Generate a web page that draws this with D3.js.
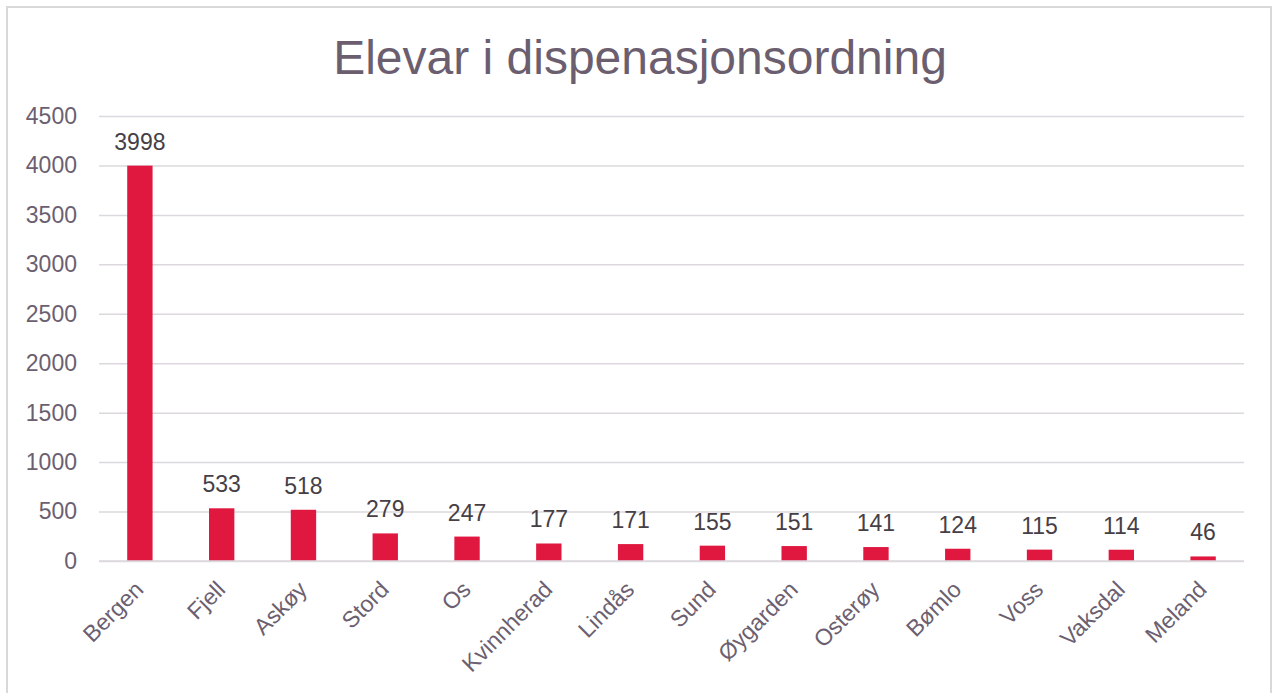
<!DOCTYPE html>
<html><head><meta charset="utf-8">
<script src="https://cdn.jsdelivr.net/npm/d3@7"></script>
<style>body{margin:0;background:#fff;} svg{display:block;font-family:"Liberation Sans",Arial,sans-serif;}</style>
</head><body>
<svg id="c" width="1275" height="693"></svg>
<script>
const categories = ["Bergen","Fjell","Askøy","Stord","Os","Kvinnherad","Lindås","Sund","Øygarden","Osterøy","Bømlo","Voss","Vaksdal","Meland"];
const values = [3998,533,518,279,247,177,171,155,151,141,124,115,114,46];
const yTicks = [0,500,1000,1500,2000,2500,3000,3500,4000,4500];
const title = "Elevar i dispenasjonsordning";

(function(){
const svg = d3.select("#c");
svg.append("rect").attr("x",7).attr("y",7).attr("width",1264).attr("height",700)
  .attr("fill","#fff").attr("stroke","#d9d9d9").attr("stroke-width",2);

const pL=99, pR=1244, pT=116, pB=561;
const x = d3.scaleBand().domain(categories).range([pL,pR]).paddingInner(0.69).paddingOuter(0.345);
const y = d3.scaleLinear().domain([0,4500]).range([pB,pT]);

svg.append("text").attr("x",640).attr("y",74).attr("text-anchor","middle")
  .attr("font-size",48).attr("fill","#6b5e6f").text(title);

const gy = svg.append("g").attr("transform",`translate(${pL},0)`)
  .call(d3.axisLeft(y).tickValues(yTicks).tickSize(-(pR-pL)).tickPadding(22).tickFormat(d3.format("d")));
gy.select(".domain").remove();
gy.selectAll(".tick line").attr("stroke","#dcd8de").attr("stroke-width",1.5);
gy.selectAll(".tick text").attr("font-size",23).attr("fill","#6b6070").attr("font-family","Liberation Sans, Arial, sans-serif");

svg.selectAll("rect.bar").data(values).enter().append("rect").attr("class","bar")
  .attr("x",(d,i)=>x(categories[i])).attr("width",x.bandwidth())
  .attr("y",d=>y(d)).attr("height",d=>pB-y(d)).attr("fill","#e0173f");

svg.append("line").attr("x1",pL).attr("x2",pR).attr("y1",pB).attr("y2",pB)
  .attr("stroke","#dcd8de").attr("stroke-width",1.5);

svg.selectAll("text.lbl").data(values).enter().append("text").attr("class","lbl")
  .attr("x",(d,i)=>x(categories[i])+x.bandwidth()/2).attr("y",d=>y(d)-16)
  .attr("text-anchor","middle").attr("font-size",23).attr("fill","#464046").text(d=>d);

const gx = svg.append("g").attr("transform",`translate(0,${pB})`)
  .call(d3.axisBottom(x).tickSize(0).tickPadding(0));
gx.select(".domain").remove();
gx.selectAll(".tick text").attr("font-size",23).attr("fill","#6b6070")
  .attr("font-family","Liberation Sans, Arial, sans-serif")
  .attr("text-anchor","end").attr("dy",0)
  .attr("transform","translate(5,30) rotate(-45)");
})();
</script>
</body></html>
